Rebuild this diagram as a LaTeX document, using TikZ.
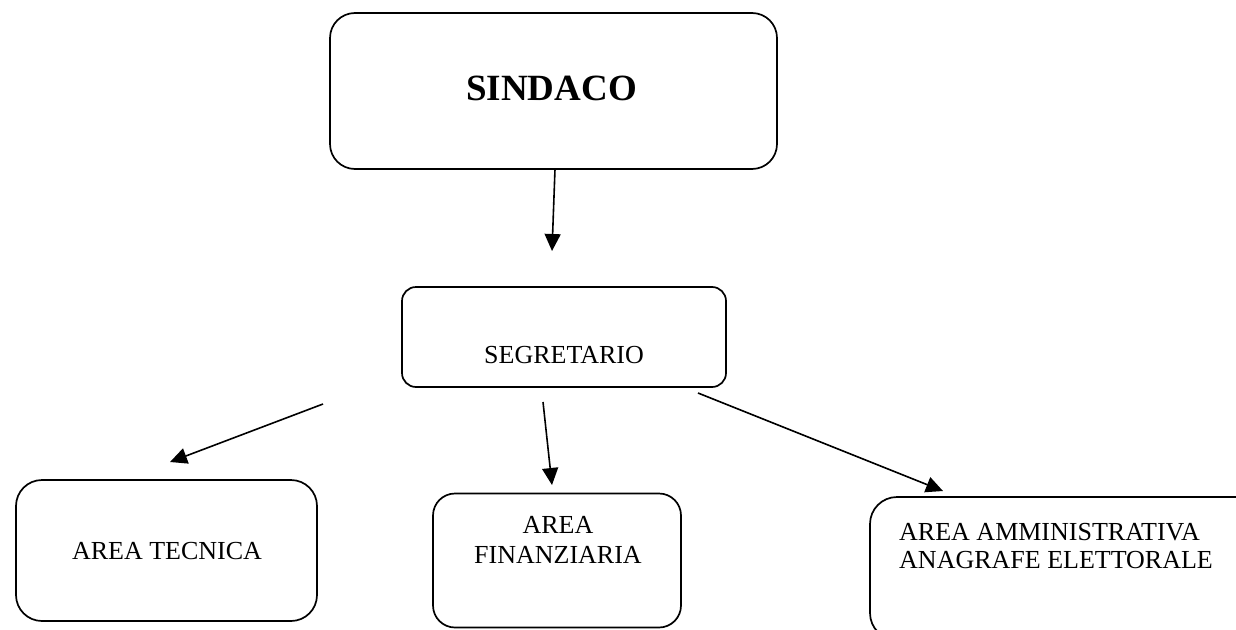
\documentclass[tikz,border=0pt]{standalone}
\usepackage{fontspec}
\setmainfont{Liberation Serif}
\usetikzlibrary{arrows.meta}
\begin{document}
\begin{tikzpicture}[x=1pt,y=-1pt,
  box/.style={draw, line width=1.7pt, rounded corners=#1, inner sep=0pt},
  lbl/.style={inner sep=0pt, font=\fontsize{26}{30}\selectfont},
  arr/.style={line width=1.6pt, -{Triangle[length=17pt,width=16pt]}}]
\useasboundingbox (0,0) rectangle (1236,629);
\clip (0,0) rectangle (1236,629);
% boxes
\node[box=25pt, minimum width=447pt, minimum height=156pt] (sindaco) at (553.5,91) {};
\node[box=14pt, minimum width=324pt, minimum height=100pt] (segretario) at (564,337) {};
\node[box=26pt, minimum width=301pt, minimum height=141pt] (tecnica) at (166.5,550.5) {};
\node[box=22pt, minimum width=248pt, minimum height=134pt] (finanziaria) at (557,560.5) {};
\node[box=27pt, minimum width=392pt, minimum height=143pt] (amministrativa) at (1066,568.5) {};
% labels
\node[lbl, anchor=base, font=\fontsize{37}{40}\selectfont\bfseries] (tsindaco) at (551.5,100) {SINDACO};
\node[lbl, anchor=base] (tsegretario) at (564,363) {SEGRETARIO};
\node[lbl, anchor=base] (ttecnica) at (167,559) {AREA TECNICA};
\node[lbl, anchor=base, align=center] (tfinanziaria) at (558,563) {AREA\\FINANZIARIA};
\node[lbl, anchor=base west, align=left, font=\fontsize{26}{27.5}\selectfont] (tamministrativa) at (899,568) {AREA AMMINISTRATIVA\\ANAGRAFE ELETTORALE};
% connector ends
\coordinate (a1s) at (555,169);
\coordinate (a1e) at (552,251);
\coordinate (a2s) at (323,404);
\coordinate (a2e) at (170,462);
\coordinate (a3s) at (543,402);
\coordinate (a3e) at (552,485);
\coordinate (a4s) at (698,393);
\coordinate (a4e) at (943,491);
\draw[arr] (a1s) -- (a1e);
\draw[arr] (a2s) -- (a2e);
\draw[arr] (a3s) -- (a3e);
\draw[arr] (a4s) -- (a4e);
\end{tikzpicture}
\end{document}
